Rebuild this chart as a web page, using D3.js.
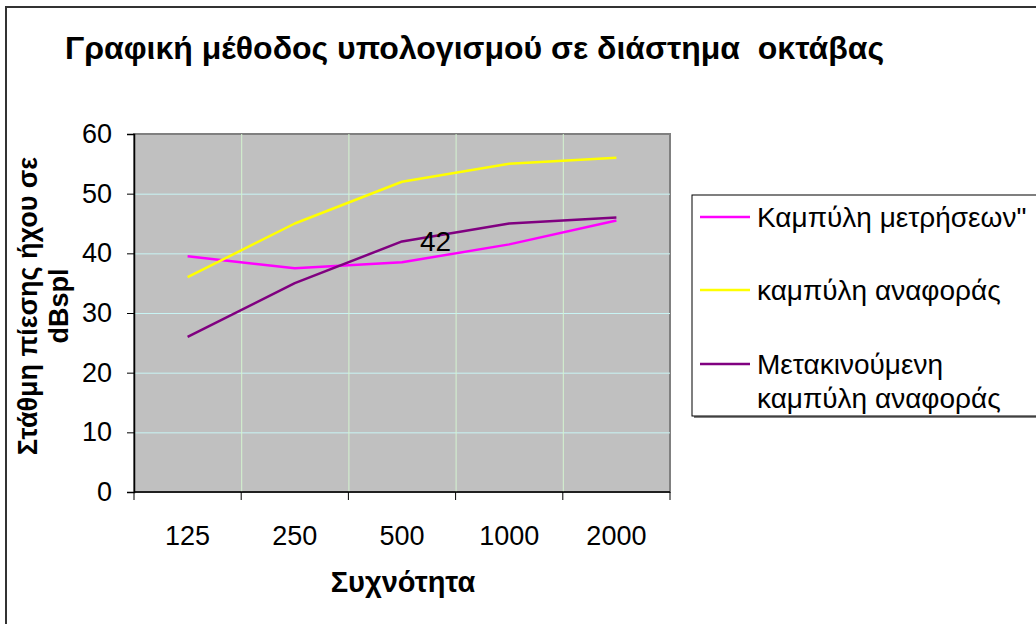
<!DOCTYPE html>
<html>
<head>
<meta charset="utf-8">
<script src="https://cdn.jsdelivr.net/npm/d3@7"></script>
<style>
  html, body { margin: 0; padding: 0; background: #ffffff; }
  svg { display: block; font-family: "Liberation Sans", Arial, sans-serif; }
</style>
</head>
<body>
<svg id="chart" width="1036" height="624"></svg>
<script>
// Octave-band frequencies (Hz)
const categories = ["125", "250", "500", "1000", "2000"];

// Sound pressure levels, dB SPL
const measured = [39.5, 37.5, 38.5, 41.5, 45.5];   // Καμπύλη μετρήσεων"
const reference = [36, 45, 52, 55, 56];            // καμπύλη αναφοράς
const shifted = [26, 35, 42, 45, 46];              // Μετακινούμενη καμπύλη αναφοράς

const yTicks = [0, 10, 20, 30, 40, 50, 60];

const seriesNames = [
  ["Καμπύλη μετρήσεων\""],
  ["καμπύλη αναφοράς"],
  ["Μετακινούμενη", "καμπύλη αναφοράς"]
];
const seriesColors = ["#ff00ff", "#ffff00", "#800080"];
const seriesValues = [measured, reference, shifted];

const svg = d3.select("#chart");

// Outer chart frame
svg.append("rect")
  .attr("x", 6).attr("y", 7)
  .attr("width", 1060).attr("height", 640)
  .attr("fill", "#ffffff")
  .attr("stroke", "#333333").attr("stroke-width", 2);

// Title
svg.append("text")
  .attr("x", 65).attr("y", 59)
  .attr("font-size", 32).attr("font-weight", "bold")
  .attr("fill", "#000")
  .style("white-space", "pre")
  .text("Γραφική μέθοδος υπολογισμού σε διάστημα  οκτάβας");

// Plot area
const plot = { left: 134, top: 134, right: 670, bottom: 492 };

const x = d3.scaleBand().domain(categories).range([plot.left, plot.right]).padding(0);
const y = d3.scaleLinear().domain([0, 60]).range([plot.bottom, plot.top]);

svg.append("rect")
  .attr("x", plot.left).attr("y", plot.top)
  .attr("width", plot.right - plot.left).attr("height", plot.bottom - plot.top)
  .attr("fill", "#c0c0c0")
  .attr("stroke", "#808080").attr("stroke-width", 2);

// Horizontal gridlines
svg.append("g")
  .selectAll("line")
  .data(yTicks.filter(d => d > 0 && d < 60))
  .join("line")
  .attr("x1", plot.left).attr("x2", plot.right)
  .attr("y1", d => y(d) + 0.5).attr("y2", d => y(d) + 0.5)
  .attr("stroke", "#c8f4f4").attr("stroke-width", 1);

// Vertical gridlines at category boundaries
svg.append("g")
  .selectAll("line")
  .data(categories.slice(1))
  .join("line")
  .attr("x1", d => x(d) + 0.5).attr("x2", d => x(d) + 0.5)
  .attr("y1", plot.top).attr("y2", plot.bottom)
  .attr("stroke", "#d4f4d0").attr("stroke-width", 1);

// Y axis
const yAxis = svg.append("g")
  .attr("transform", `translate(${plot.left},0)`)
  .call(d3.axisLeft(y).tickValues(yTicks).tickSize(7).tickPadding(15));
yAxis.select(".domain").attr("stroke", "#000").attr("stroke-width", 1.5);
yAxis.selectAll(".tick line").attr("stroke", "#000");
yAxis.selectAll(".tick text")
  .attr("font-size", 27).attr("font-family", "Liberation Sans, Arial, sans-serif")
  .attr("fill", "#000");

// X axis: ticks at the boundaries between categories
const xAxisG = svg.append("g").attr("transform", `translate(0,${plot.bottom})`);
xAxisG.append("line")
  .attr("x1", plot.left).attr("x2", plot.right)
  .attr("y1", 0).attr("y2", 0)
  .attr("stroke", "#000").attr("stroke-width", 1.5);
const boundaries = categories.map(c => x(c)).concat([x(categories[categories.length - 1]) + x.bandwidth()]);
xAxisG.selectAll("line.tick")
  .data(boundaries)
  .join("line")
  .attr("class", "tick")
  .attr("x1", d => d).attr("x2", d => d)
  .attr("y1", 0).attr("y2", 8)
  .attr("stroke", "#000");
xAxisG.selectAll("text")
  .data(categories)
  .join("text")
  .attr("x", d => x(d) + x.bandwidth() / 2)
  .attr("y", 53)
  .attr("text-anchor", "middle")
  .attr("font-size", 27)
  .attr("fill", "#000")
  .text(d => d);

// Axis titles
svg.append("text")
  .attr("x", 403).attr("y", 592)
  .attr("text-anchor", "middle")
  .attr("font-size", 29).attr("font-weight", "bold")
  .text("Συχνότητα");

const yTitle = svg.append("text")
  .attr("transform", "translate(0,306) rotate(-90)")
  .attr("text-anchor", "middle")
  .attr("font-size", 27).attr("font-weight", "bold");
yTitle.append("tspan").attr("x", 0).attr("y", 37).text("Στάθμη πίεσης ήχου σε");
yTitle.append("tspan").attr("x", 0).attr("y", 68).text("dBspl");

// Series lines
const line = d3.line()
  .x((d, i) => x(categories[i]) + x.bandwidth() / 2)
  .y(d => y(d));

seriesValues.forEach((vals, k) => {
  svg.append("path")
    .datum(vals)
    .attr("d", line)
    .attr("fill", "none")
    .attr("stroke", seriesColors[k])
    .attr("stroke-width", 2.5)
    .attr("stroke-linejoin", "round");
});

// Data label on the shifted reference curve at 500 Hz
const labelIdx = 2;
svg.append("text")
  .attr("x", x(categories[labelIdx]) + x.bandwidth() / 2 + 18)
  .attr("y", y(shifted[labelIdx]))
  .attr("dy", "0.35em")
  .attr("font-size", 28)
  .attr("fill", "#000")
  .text(shifted[labelIdx]);

// Legend
const legend = { x: 692, y: 195, w: 360, h: 221 };
svg.append("rect")
  .attr("x", legend.x + 2).attr("y", legend.y + 2)
  .attr("width", legend.w).attr("height", legend.h)
  .attr("fill", "#808080");
svg.append("rect")
  .attr("x", legend.x).attr("y", legend.y)
  .attr("width", legend.w).attr("height", legend.h)
  .attr("fill", "#ffffff")
  .attr("stroke", "#000").attr("stroke-width", 1);

const legendRows = [217, 290, 364];
seriesNames.forEach((lines, k) => {
  const ly = legendRows[k];
  svg.append("line")
    .attr("x1", 700).attr("x2", 750)
    .attr("y1", ly).attr("y2", ly)
    .attr("stroke", seriesColors[k]).attr("stroke-width", 2.5);
  const t = svg.append("text")
    .attr("font-size", 28).attr("fill", "#000");
  lines.forEach((s, j) => {
    t.append("tspan")
      .attr("x", 757)
      .attr("y", ly + j * 34)
      .attr("dy", "0.36em")
      .text(s);
  });
});
</script>
</body>
</html>
